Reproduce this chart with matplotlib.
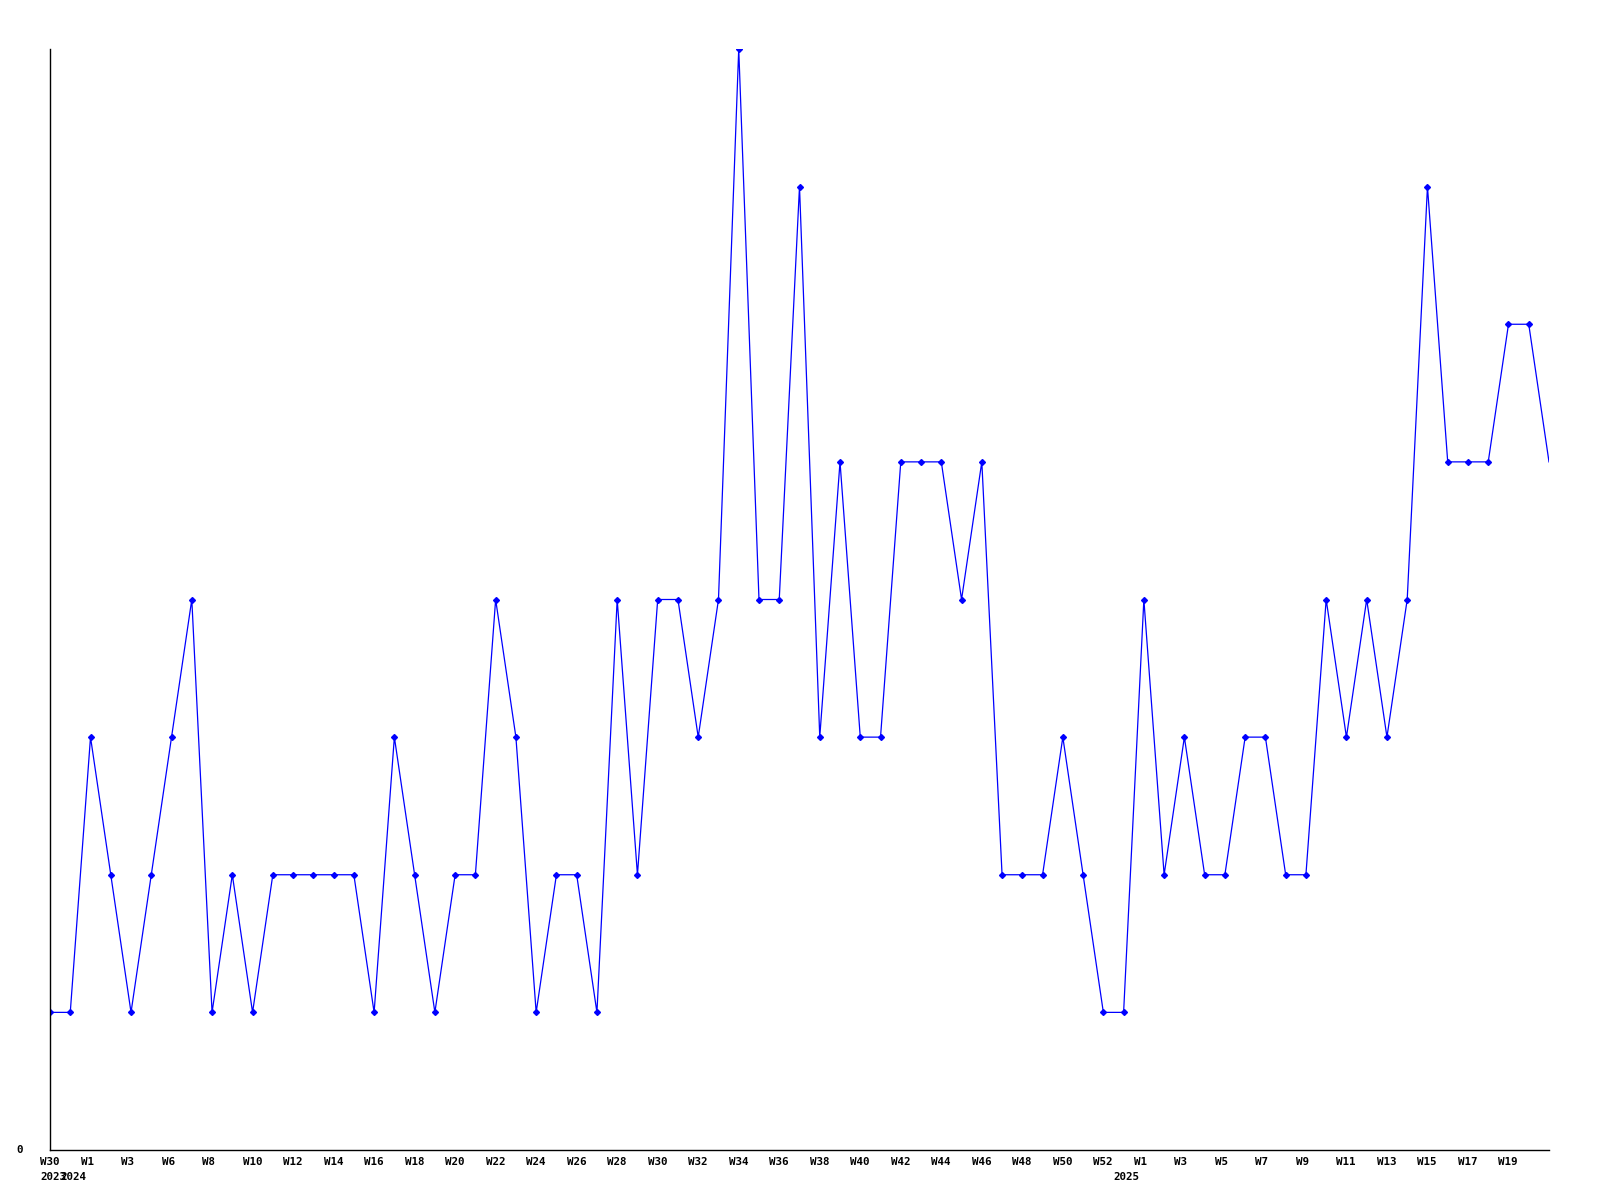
import numpy as np
import matplotlib
matplotlib.use('Agg')
import matplotlib.pyplot as plt
import matplotlib.transforms as mtransforms

# weekly counts, one per point
values = [1, 1, 3, 2, 1, 2, 3, 4, 1, 2,
          1, 2, 2, 2, 2, 2, 1, 3, 2, 1,
          2, 2, 4, 3, 1, 2, 2, 1, 4, 2,
          4, 4, 3, 4, 8, 4, 4, 7, 3, 5,
          3, 3, 5, 5, 5, 4, 5, 2, 2, 2,
          3, 2, 1, 1, 4, 2, 3, 2, 2, 3,
          3, 2, 2, 4, 3, 4, 3, 4, 7, 5,
          5, 5, 6, 6, 5]

# labelled week ticks (index into values) and the text under them
week_ticks = [0, 2, 4, 6, 8, 10, 12, 14, 16, 18, 20, 22, 24, 26, 28, 30, 32, 34,
              36, 38, 40, 42, 44, 46, 48, 50, 52, 54, 56, 58, 60, 62, 64, 66, 68,
              70, 72]
week_labels = ['W30', 'W1', 'W3', 'W6', 'W8', 'W10', 'W12', 'W14', 'W16', 'W18',
               'W20', 'W22', 'W24', 'W26', 'W28', 'W30', 'W32', 'W34', 'W36',
               'W38', 'W40', 'W42', 'W44', 'W46', 'W48', 'W50', 'W52', 'W1', 'W3',
               'W5', 'W7', 'W9', 'W11', 'W13', 'W15', 'W17', 'W19']
year_ticks = [0, 1, 53]
year_labels = ['2023', '2024', '2025']

x = np.arange(len(values))

fig = plt.figure(figsize=(16, 12), dpi=100)
ax = fig.add_axes([50 / 1600, 50 / 1200, 1499 / 1600, 1101 / 1200])

ax.plot(x, values, color='#0000ff', linewidth=0.9)
ax.plot(x[:-1], values[:-1], linestyle='none', marker='D', markersize=3,
        color='#0000ff')

ax.set_xlim(0, len(values) - 1)
ax.set_ylim(0, max(values))
for side in ['top', 'right']:
    ax.spines[side].set_visible(False)
for side in ['left', 'bottom']:
    ax.spines[side].set_linewidth(1.0)
    ax.spines[side].set_color('black')
ax.set_xticks([])
ax.set_yticks([])

font = dict(family='DejaVu Sans Mono', weight='bold', size=7.8, color='black')
base = mtransforms.blended_transform_factory(ax.transData, ax.transAxes)

def shifted(dx, dy):
    return base + mtransforms.ScaledTranslation(dx / 100, dy / 100,
                                                fig.dpi_scale_trans)

for t, lab in zip(week_ticks, week_labels):
    ax.text(t, 0, lab, transform=shifted(-10, -12), ha='left', va='center',
            **font)
for t, lab in zip(year_ticks, year_labels):
    ax.text(t, 0, lab, transform=shifted(-10, -27), ha='left', va='center',
            **font)

ax.text(0, 0, '0', transform=shifted(-30, 0), ha='center', va='center', **font)

fig.savefig('out.png', dpi=100)
